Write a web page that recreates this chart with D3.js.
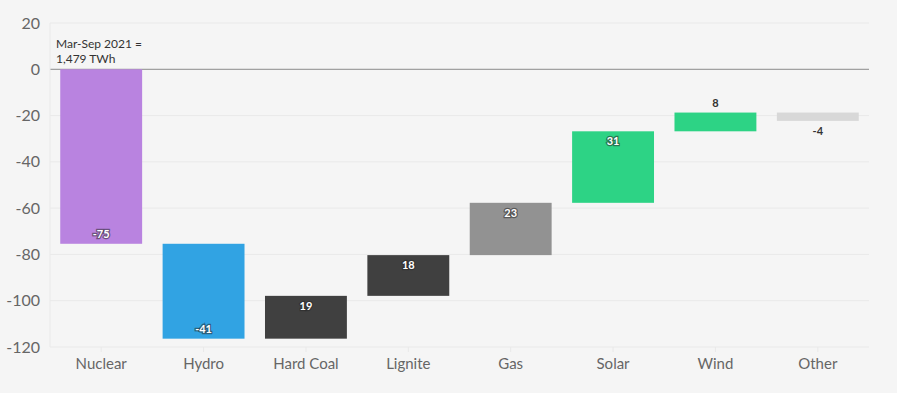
<!DOCTYPE html>
<html>
<head>
<meta charset="utf-8">
<script src="https://cdn.jsdelivr.net/npm/d3@7"></script>
<style>
  body { margin: 0; background: #f5f5f5; font-family: "Source Sans Pro", Lato, "Noto Sans", sans-serif; }
  .lbl { font-size: 11px; font-weight: bold; }
</style>
</head>
<body>
<div id="chart"></div>
<script>
// changes in generation vs previous year, TWh
const categories = ["Nuclear", "Hydro", "Hard Coal", "Lignite", "Gas", "Solar", "Wind", "Other"];
const changes = [-75.4, -41.0, 18.5, 17.6, 22.6, 30.9, 8.1, -3.6];
const colors = ["#b983e0", "#31a3e3", "#404040", "#404040", "#929292", "#2dd385", "#2dd385", "#d8d8d8"];
const yTicks = [-120, -100, -80, -60, -40, -20, 0, 20];

const width = 897, height = 393;
const margin = { top: 23, right: 28, bottom: 46, left: 50 };

const svg = d3.select("#chart").append("svg").attr("width", width).attr("height", height);

// running totals for the waterfall
let run = 0;
const rows = categories.map((c, i) => {
    const start = run;
    run += changes[i];
    return { name: c, value: changes[i], start: start, end: run, color: colors[i] };
});

const x = d3.scaleBand().domain(categories).range([margin.left, width - margin.right]).paddingInner(0.2).paddingOuter(0.1);
const y = d3.scaleLinear().domain([-120, 20]).range([height - margin.bottom, margin.top]);

// grid
svg.append("g").selectAll("line").data(yTicks).join("line")
    .attr("x1", margin.left).attr("x2", width - margin.right)
    .attr("y1", d => y(d)).attr("y2", d => y(d))
    .attr("stroke", d => d === 0 ? "#8a8a8a" : "#e9e9e9")
    .attr("stroke-width", 1);
svg.append("line")
    .attr("x1", margin.left).attr("x2", margin.left)
    .attr("y1", y(20)).attr("y2", y(-120))
    .attr("stroke", "#e9e9e9");

// y axis labels
const yAxis = svg.append("g").attr("transform", `translate(${margin.left},0)`)
    .call(d3.axisLeft(y).tickValues(yTicks).tickFormat(d => String(d)).tickSize(0).tickPadding(10));
yAxis.select(".domain").remove();
yAxis.selectAll("text").attr("font-size", 16).attr("fill", "#666").attr("font-family", "Lato, 'Noto Sans', sans-serif");

// x axis labels
const xAxis = svg.append("g").attr("transform", `translate(0,${y(-120)})`)
    .call(d3.axisBottom(x).tickSize(5).tickPadding(6));
xAxis.select(".domain").remove();
xAxis.selectAll("line").attr("stroke", "#e9e9e9");
xAxis.selectAll("text").attr("font-size", 15).attr("fill", "#666").attr("font-family", "Lato, 'Noto Sans', sans-serif");

// bars
svg.append("g").selectAll("rect").data(rows).join("rect")
    .attr("x", d => x(d.name))
    .attr("width", x.bandwidth())
    .attr("y", d => y(Math.max(d.start, d.end)))
    .attr("height", d => Math.abs(y(d.start) - y(d.end)))
    .attr("fill", d => d.color);

// value labels
const fmt = v => String(Math.round(v));
const small = d => Math.abs(y(d.start) - y(d.end)) < 20;
svg.append("g").selectAll("text").data(rows).join("text")
    .attr("class", "lbl")
    .attr("text-anchor", "middle")
    .attr("x", d => x(d.name) + x.bandwidth() / 2)
    .attr("y", d => {
        if (small(d)) return d.value > 0 ? y(d.end) - 6 : y(d.end) + 14;
        return d.value > 0 ? y(d.end) + 14 : y(d.end) - 6;
    })
    .attr("fill", d => small(d) ? "#333" : "#fff")
    .style("paint-order", "stroke")
    .attr("stroke", d => small(d) ? "none" : "rgba(40,40,40,0.55)")
    .attr("stroke-width", 2.5)
    .text(d => fmt(d.value));

// annotation
const note = svg.append("text").attr("x", 56).attr("font-size", 12).attr("fill", "#333")
    .attr("font-family", "Lato, 'Noto Sans', sans-serif");
note.append("tspan").attr("x", 56).attr("y", 48).text("Mar-Sep 2021 =");
note.append("tspan").attr("x", 56).attr("y", 63).text("1,479 TWh");
</script>
</body>
</html>
